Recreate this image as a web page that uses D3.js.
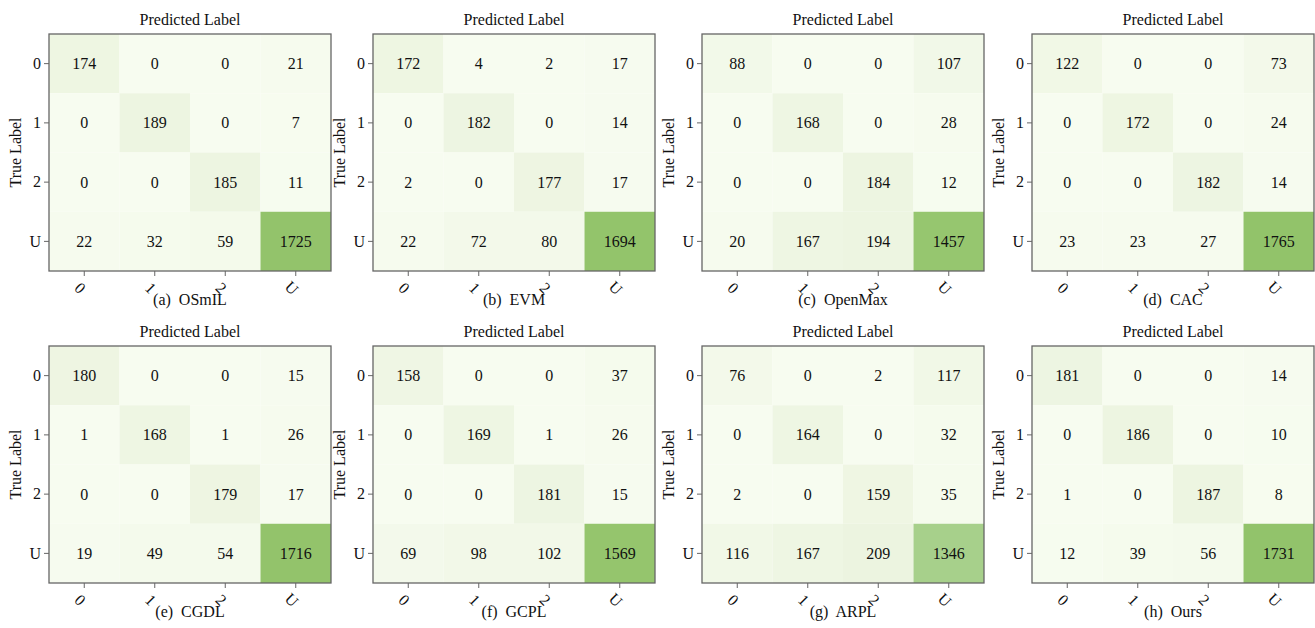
<!DOCTYPE html>
<html>
<head>
<meta charset="utf-8">
<script src="https://cdn.jsdelivr.net/npm/d3@7"></script>
<style>
  body { margin: 0; background: #fff; }
  svg, svg text { font-family: "Liberation Serif", "Times New Roman", serif; }
  svg text { fill: #111; }
</style>
</head>
<body>
<script>
// class labels (rows = true, columns = predicted)
var classes = ["0", "1", "2", "U"];

// method names and their letters for the captions
var methods = ["OSmIL", "EVM", "OpenMax", "CAC", "CGDL", "GCPL", "ARPL", "Ours"];
var letters = ["a", "b", "c", "d", "e", "f", "g", "h"];

// confusion matrices, one per method
var osmil   = [[174, 0, 0, 21], [0, 189, 0, 7], [0, 0, 185, 11], [22, 32, 59, 1725]];
var evm     = [[172, 4, 2, 17], [0, 182, 0, 14], [2, 0, 177, 17], [22, 72, 80, 1694]];
var openmax = [[88, 0, 0, 107], [0, 168, 0, 28], [0, 0, 184, 12], [20, 167, 194, 1457]];
var cac     = [[122, 0, 0, 73], [0, 172, 0, 24], [0, 0, 182, 14], [23, 23, 27, 1765]];
var cgdl    = [[180, 0, 0, 15], [1, 168, 1, 26], [0, 0, 179, 17], [19, 49, 54, 1716]];
var gcpl    = [[158, 0, 0, 37], [0, 169, 1, 26], [0, 0, 181, 15], [69, 98, 102, 1569]];
var arpl    = [[76, 0, 2, 117], [0, 164, 0, 32], [2, 0, 159, 35], [116, 167, 209, 1346]];
var ours    = [[181, 0, 0, 14], [0, 186, 0, 10], [1, 0, 187, 8], [12, 39, 56, 1731]];

var matrices = [osmil, evm, openmax, cac, cgdl, gcpl, arpl, ours];

function init(){
    var W = 1315, H = 628;
    var pw = 282, ph = 237;           // size of each heat map
    var lefts = [49, 373, 702, 1032];  // x of each column of panels
    var tops = [34, 346];              // y of each row of panels
    var font = "Liberation Serif";
    var fs = "16px";

    var svg = d3.select("body").append("svg")
                .attr("width", W)
                .attr("height", H)
                .attr("font-family", font);

    // light-to-green colour ramp, saturating near the top values
    var colour = d3.scaleLinear()
                .domain([0, 190, 1346, 1457, 1765])
                .range(["#f7fcf0", "#edf5e1", "#a7d08b", "#96c66f", "#92c36a"])
                .clamp(true);

    var x = d3.scaleBand().domain(classes).range([0, pw]);
    var y = d3.scaleBand().domain(classes).range([0, ph]);

    matrices.forEach(function(m, k){
        var g = svg.append("g")
                .attr("transform", "translate(" + lefts[k % 4] + "," + tops[Math.floor(k / 4)] + ")");

        // flatten the matrix into cells
        var cells = [];
        m.forEach(function(row, i){
            row.forEach(function(v, j){
                cells.push({r: classes[i], c: classes[j], v: v});
            });
        });

        g.selectAll("rect.cell")
            .data(cells)
            .enter()
            .append("rect")
            .attr("class", "cell")
            .attr("x", function(d){ return x(d.c); })
            .attr("y", function(d){ return y(d.r); })
            .attr("width", x.bandwidth())
            .attr("height", y.bandwidth())
            .attr("fill", function(d){ return colour(d.v); });

        g.selectAll("text.val")
            .data(cells)
            .enter()
            .append("text")
            .attr("class", "val")
            .attr("x", function(d){ return x(d.c) + x.bandwidth() / 2; })
            .attr("y", function(d){ return y(d.r) + y.bandwidth() / 2; })
            .attr("text-anchor", "middle")
            .attr("dominant-baseline", "central")
            .attr("font-family", font)
            .style("font-size", fs)
            .text(function(d){ return d.v; });

        // frame
        g.append("rect")
            .attr("width", pw)
            .attr("height", ph)
            .attr("fill", "none")
            .attr("stroke", "#666")
            .attr("stroke-width", 1.3);

        // left axis
        var ya = g.append("g").call(d3.axisLeft(y).tickSize(5).tickPadding(3));
        ya.attr("font-family", font);
        ya.select(".domain").remove();
        ya.selectAll("line").attr("stroke", "#666");
        ya.selectAll("text").style("font-size", fs);

        // bottom axis with tilted labels
        var xa = g.append("g")
                .attr("transform", "translate(0," + ph + ")")
                .call(d3.axisBottom(x).tickSize(5));
        xa.attr("font-family", font);
        xa.select(".domain").remove();
        xa.selectAll("line").attr("stroke", "#666");
        xa.selectAll("text")
            .attr("x", -4)
            .attr("y", 17)
            .attr("dy", null)
            .attr("dominant-baseline", "central")
            .attr("transform", "rotate(45,-4,17)")
            .style("font-size", fs);

        // axis titles
        g.append("text")
            .attr("x", pw / 2)
            .attr("y", -9)
            .attr("text-anchor", "middle")
            .style("font-size", fs)
            .text("Predicted Label");

        g.append("text")
            .attr("transform", "translate(-28," + (ph / 2) + ") rotate(-90)")
            .attr("text-anchor", "middle")
            .style("font-size", fs)
            .text("True Label");

        // caption
        g.append("text")
            .attr("x", pw / 2)
            .attr("y", ph + 34)
            .attr("text-anchor", "middle")
            .attr("xml:space", "preserve")
            .style("white-space", "pre")
            .style("font-size", fs)
            .text("(" + letters[k] + ")  " + methods[k]);
    });
}
window.onload = init;
</script>
</body>
</html>
